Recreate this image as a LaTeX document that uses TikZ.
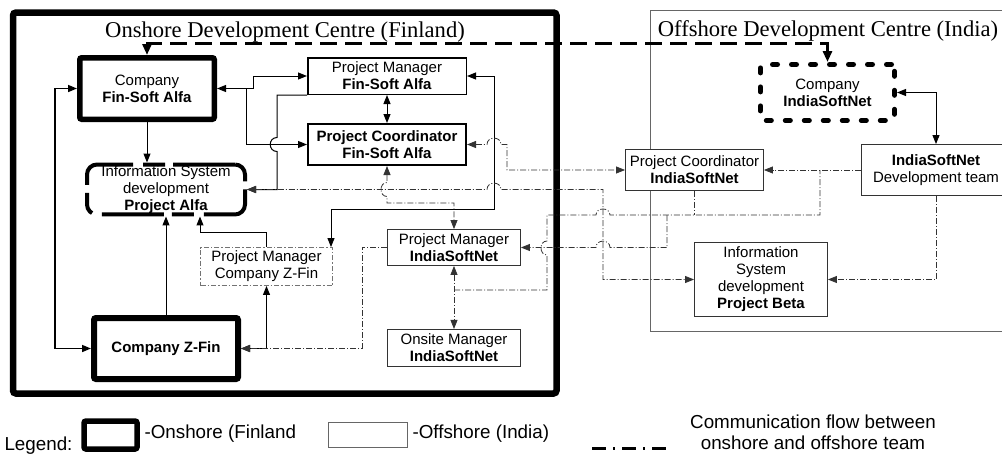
\documentclass[tikz,border=0pt]{standalone}
\usepackage{fontspec}
\setmainfont{Liberation Serif}
\newfontfamily\arialfont{Liberation Sans}
\usetikzlibrary{arrows.meta,positioning}
\newcommand{\nodefont}{\arialfont\fontsize{15}{17}\selectfont}
\newcommand{\titlefont}{\fontsize{22.6}{26}\selectfont}
\newcommand{\legendfont}{\arialfont\fontsize{18.8}{21}\selectfont}

\begin{document}
\begin{tikzpicture}[x=1pt, y=-1pt,
        >={Triangle[length=9pt,width=7pt]},
        block/.style={rectangle, draw, fill=white, font=\nodefont, align=center, inner sep=1pt},
        onshore/.style={block, line width=5.5pt, rounded corners=2pt},
        offshore/.style={block, draw=black!80, line width=0.9pt},
        line/.style={draw, line width=1pt},
        comm/.style={draw, black!80, line width=0.8pt, dash pattern=on 6pt off 2pt on 1pt off 2pt}
    ]
    \useasboundingbox (0,0) rectangle (1002,453);
    % centres
    \draw[line width=6.5pt, rounded corners=3pt] (13,12.5) rectangle (556.5,393.5);
    \draw[black!60, line width=0.9pt] (650.5,10) rectangle (1015,331);
    \node[anchor=base, font=\titlefont] (ontitle) at (285,37) {Onshore Development Centre (Finland)};
    \node[anchor=base, font=\titlefont] (offtitle) at (828,36) {Offshore Development Centre (India)};
    % onshore team
    \node[onshore, minimum width=134.5pt, minimum height=61.5pt] (fsa) at (147,88.5) {Company\\\textbf{Fin-Soft Alfa}};
    \node[block, line width=1.5pt, minimum width=158.5pt, minimum height=36.5pt] (pmfsa) at (387,76) {Project Manager\\\textbf{Fin-Soft Alfa}};
    \node[block, line width=2.2pt, minimum width=157.8pt, minimum height=40.8pt, below=28pt of pmfsa] (pcfsa) {\textbf{Project Coordinator}\\\textbf{Fin-Soft Alfa}};
    \node[block, line width=4pt, rounded corners=10pt, dash pattern=on 62pt off 8pt on 22pt off 10pt, minimum width=158pt, minimum height=47pt] (alfa) at (166,189.5) {Information System\\development\\\textbf{Project Alfa}};
    \node[block, draw=black!55, line width=0.9pt, dash pattern=on 5pt off 2pt on 1.5pt off 2pt, minimum width=132pt, minimum height=38pt] (pmzfin) at (266.5,266.5) {Project Manager\\Company Z-Fin};
    \node[onshore, line width=6pt, minimum width=144pt, minimum height=61pt] (zfin) at (166,348.5) {\textbf{Company Z-Fin}};
    \node[offshore, minimum width=133pt, minimum height=36pt] (pmisn) at (454,247.5) {Project Manager\\\textbf{IndiaSoftNet}};
    \node[offshore, minimum width=133pt, minimum height=37pt, below=63pt of pmisn] (onsite) {Onsite Manager\\\textbf{IndiaSoftNet}};
    % offshore team
    \node[offshore, minimum width=138pt, minimum height=41pt] (pcisn) at (694.5,170) {Project Coordinator\\\textbf{IndiaSoftNet}};
    \node[block, line width=5pt, line cap=round, dash pattern=on 5pt off 14pt, rounded corners=3pt, minimum width=134pt, minimum height=56pt] (cisn) at (827.5,92.5) {Company\\\textbf{IndiaSoftNet}};
    \node[offshore, minimum width=149pt, minimum height=51pt] (devteam) at (936,170) {\textbf{IndiaSoftNet}\\Development team};
    \node[offshore, minimum width=133pt, minimum height=74pt] (beta) at (761,279.5) {Information\\System\\development\\\textbf{Project Beta}};
    % solid links
    \path[line,<->] (fsa.east) -- (253,88.5) |- (pmfsa.west);
    \coordinate (fsab) at (246,88.5);
    \path[line,->] (fsab) |- (pcfsa.west);
    \path[line,->] (pmfsa.south west) -- (277,95) -- (277,137.5) .. controls (268,137.5) and (268,151.5) .. (277,151.5) -- (277,189.5) -- (alfa.east);
    \path[line,<->] (pmfsa) -- (pcfsa);
    \path[line,<->,line width=1.6pt] (fsa.west) -- (55,88.5) |- (zfin.west);
    \path[line,->] (fsa.south) -- (fsa.south |- alfa.north);
    \path[line,->] (zfin) -- (alfa);
    \coordinate (zfk) at (200,232);
    \path[line,->] (pmzfin.north) |- (zfk) -- (zfk |- alfa.south);
    \path[line,<->] (pmzfin.south) |- (zfin.east);
    \coordinate (pmk) at (331,209);
    \path[line,<->] (pmfsa.east) -- (494,76) |- (pmk) -- (pmk |- pmzfin.north);
    \path[line,<->] (cisn.east) -| (devteam.north);
    \coordinate (bigk) at (480,43);
    \path[draw,<->,line width=3pt,dash pattern=on 17pt off 8pt,>={Triangle[length=11pt,width=9pt]}] (fsa.north) |- (bigk) -| (cisn.north);
    % communication flow
    \path[comm,<->] (pcfsa.east) -- (487,144.5) .. controls (487,136) and (501,136) .. (501,144.5) -- (507,144.5) |- (pcisn.west);
    \path[comm,<->] (alfa.east) -- (487,189.5) .. controls (487,181) and (501,181) .. (501,189.5) -- (603,189.5) |- (beta.west);
    \path[comm,<->] (pcfsa.south) -- (387,182.5) .. controls (379,182.5) and (379,196.5) .. (387,196.5) -- (387,203) -| (pmisn.north);
    \path[comm,->] (pmisn.west) -- (362,247.5) |- (zfin.east);
    \path[comm,<->] (pmisn) -- (onsite);
    \coordinate (onsj) at (454,290);
    \coordinate (busr) at (820,170);
    \path[comm] (onsj) -- (547,290) -- (547,255) .. controls (539,255) and (539,241) .. (547,241) -- (547,215) -- (596,215) .. controls (596,207) and (610,207) .. (610,215) -| (busr);
    \coordinate (busm) at (667,215);
    \path[comm,->] (busm) -- (667,247.5) -- (610,247.5) .. controls (610,239) and (596,239) .. (596,247.5) -- (pmisn.east);
    \path[comm] (pcisn.south) -- (pcisn.south |- busm);
    \path[comm,->] (devteam.west) -- (pcisn.east);
    \path[comm,->] (devteam.south) |- (beta.east);
    % legend
    \node[anchor=base west, font=\legendfont] (legend) at (1,450) {Legend:};
    \node[onshore, minimum width=53pt, minimum height=28pt] (legon) at (110.5,435) {};
    \node[anchor=base west, font=\legendfont] (legontext) at (141,438) {-Onshore (Finland};
    \node[offshore, draw=black!60, minimum width=79pt, minimum height=25pt] (legoff) at (368,435) {};
    \node[anchor=base west, font=\legendfont] (legofftext) at (409,438) {-Offshore (India)};
    \draw[line width=3pt, dash pattern=on 14pt off 7pt on 2pt off 7pt] (592,448) -- (666,448);
    \node[align=center, font=\legendfont] (legcomm) at (813,432) {Communication flow between\\onshore and offshore team};
\end{tikzpicture}
\end{document}
